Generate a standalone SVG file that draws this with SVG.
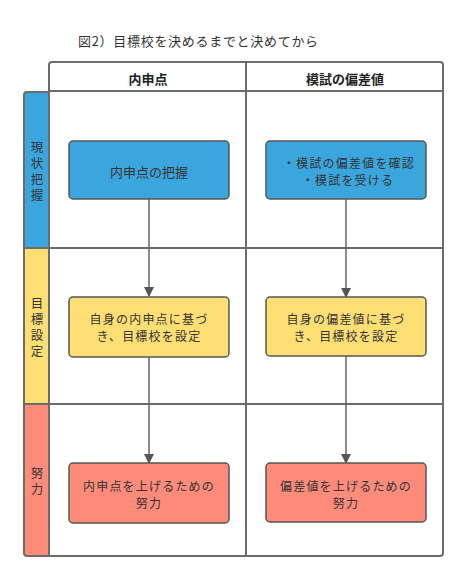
<svg xmlns="http://www.w3.org/2000/svg" width="468" height="577" viewBox="0 0 468 577">
<defs>
<style>
text{font-family:"Noto Sans CJK JP","Noto Sans",sans-serif;font-size:13px;fill:#333;text-anchor:middle;dominant-baseline:central}
.m{font-size:12px;letter-spacing:1.2px}
.grid{fill:none;stroke:#6b6b6b;stroke-width:2}
.box{stroke:#555;stroke-width:1.5}
.b{fill:#3ba6dd}.y{fill:#ffdf73}.r{fill:#ff8b7b}
.hd{font-weight:bold;fill:#222}
.vt{writing-mode:vertical-rl;font-size:12.5px;letter-spacing:3.5px}
.conn{stroke:#666;stroke-width:1.5;fill:none}
</style>
<marker id="ah" markerWidth="10" markerHeight="10" refX="9" refY="5" orient="auto" markerUnits="userSpaceOnUse">
<path d="M0,0 L10,5 L0,10 z" fill="#555"/>
</marker>
</defs>
<rect width="468" height="577" fill="#fff"/>
<text id="title" x="78" y="40" style="text-anchor:start;letter-spacing:0.7px">図2）目標校を決めるまでと決めてから</text>

<g id="lanes">
<path class="b" d="M27,92 H49 V248 H24 V95 Q24,92 27,92 z"/>
<rect class="y" x="24" y="248" width="25" height="156"/>
<path class="r" d="M24,404 H49 V556 H27 Q24,556 24,553 z"/>
<path class="grid" d="M27,92 H49 V556 H27 Q24,556 24,553 V95 Q24,92 27,92 z M24,248 H49 M24,404 H49"/>
<text id="lane-genjo" class="vt" x="37" y="173">現状把握</text>
<text id="lane-mokuhyo" class="vt" x="37" y="329">目標設定</text>
<text id="lane-doryoku" class="vt" x="37" y="483">努力</text>
</g>

<g id="table">
<path class="grid" d="M52,62 H440 Q443,62 443,65 V553 Q443,556 440,556 H49 V65 Q49,62 52,62 z"/>
<path class="grid" d="M49,91 H443 M49,248 H443 M49,404 H443 M246,62 V556"/>
<text class="hd" x="148" y="78">内申点</text>
<text class="hd" x="345" y="78">模試の偏差値</text>
</g>

<g id="connectors">
<line class="conn" x1="149" y1="199" x2="149" y2="296" marker-end="url(#ah)"/>
<line class="conn" x1="346" y1="199" x2="346" y2="297" marker-end="url(#ah)"/>
<line class="conn" x1="149" y1="357" x2="149" y2="463" marker-end="url(#ah)"/>
<line class="conn" x1="346" y1="356" x2="346" y2="463" marker-end="url(#ah)"/>
</g>

<g id="n1"><rect class="box b" x="69" y="141" width="160" height="58" rx="4"/><text x="149" y="171">内申点の把握</text></g>
<g id="n2"><rect class="box b" x="266" y="141" width="160" height="58" rx="4"/><text class="m"><tspan x="349" y="161.6">・模試の偏差値を確認</tspan><tspan x="348" y="179.4">・模試を受ける</tspan></text></g>
<g id="n3"><rect class="box y" x="69" y="297" width="160" height="60" rx="4"/><text class="m"><tspan x="149" y="317.6">自身の内申点に基づ</tspan><tspan x="149" y="335.4">き、目標校を設定</tspan></text></g>
<g id="n4"><rect class="box y" x="266" y="297" width="160" height="59" rx="4"/><text class="m"><tspan x="346" y="317.6">自身の偏差値に基づ</tspan><tspan x="346" y="335.4">き、目標校を設定</tspan></text></g>
<g id="n5"><rect class="box r" x="69" y="463" width="160" height="60" rx="4"/><text class="m"><tspan x="149" y="484.6">内申点を上げるための</tspan><tspan x="149" y="502.4">努力</tspan></text></g>
<g id="n6"><rect class="box r" x="266" y="463" width="160" height="59" rx="4"/><text class="m"><tspan x="346" y="484.6">偏差値を上げるための</tspan><tspan x="346" y="502.4">努力</tspan></text></g>
</svg>
